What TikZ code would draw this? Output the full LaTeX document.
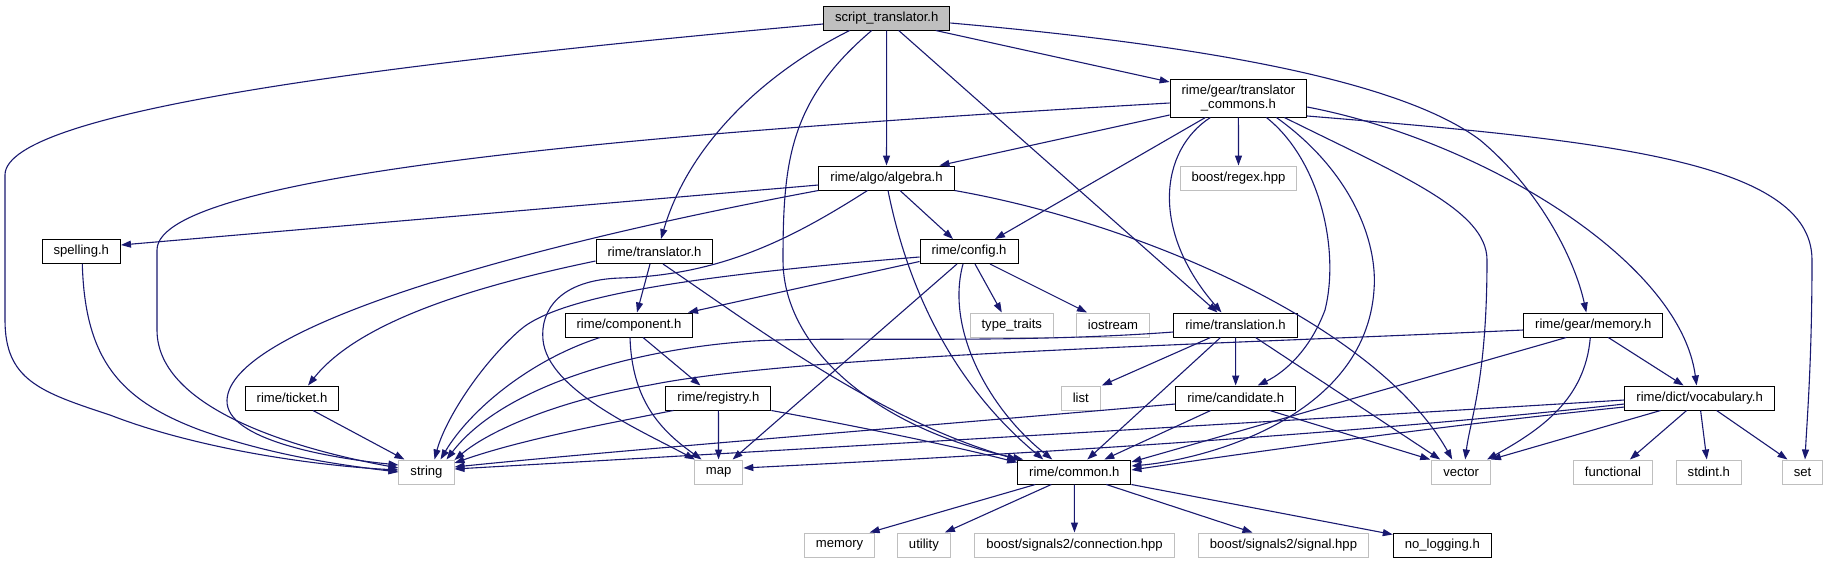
\documentclass[tikz,border=0pt]{standalone}
\usepackage{fontspec}
\setmainfont{Liberation Sans}
\usetikzlibrary{arrows.meta, positioning}
\definecolor{edgeblue}{HTML}{191970}
\definecolor{sysgray}{HTML}{BFBFBF}

\begin{document}
\begin{tikzpicture}[
    x=1pt, y=-1pt,
    file/.style={rectangle, draw=black, fill=white, line width=1pt, minimum height=24pt, inner xsep=11.5pt, inner ysep=0pt, font=\fontsize{13.1}{13.3}\selectfont},
    sysfile/.style={file, draw=sysgray},
    rootfile/.style={file, fill=sysgray},
    arrow/.style={-{Triangle[length=10pt, width=7pt]}, draw=edgeblue, line width=1.1pt}
]
    \useasboundingbox (0,0) rectangle (1828,563);

    \node[rootfile] (root) at (886.7,18) {script\_translator.h};
    \node[file, align=center, minimum height=38pt] (commons) at (1238.4,98) {rime/gear/translator\\\_commons.h};
    \node[file] (algebra) at (886.5,178) {rime/algo/algebra.h};
    \node[sysfile] (regex) at (1238.5,178) {boost/regex.hpp};
    \node[file] (spelling) at (81.3,251.5) {spelling.h};
    \node[file] (translator) at (654.5,251.5) {rime/translator.h};
    \node[file] (config) at (969,251.5) {rime/config.h};
    \node[file] (component) at (629,325) {rime/component.h};
    \node[sysfile] (typetraits) at (1011.8,325) {type\_traits};
    \node[sysfile] (iostream) at (1113,325) {iostream};
    \node[file] (translation) at (1235.5,325) {rime/translation.h};
    \node[file] (gearmemory) at (1593.3,325) {rime/gear/memory.h};
    \node[file] (ticket) at (292,398) {rime/ticket.h};
    \node[file] (registry) at (718.4,398) {rime/registry.h};
    \node[sysfile] (list) at (1080.8,398) {list};
    \node[file] (candidate) at (1235.7,398) {rime/candidate.h};
    \node[file] (vocabulary) at (1699.6,398) {rime/dict/vocabulary.h};
    \node[sysfile] (strng) at (426.5,472) {string};
    \node[sysfile] (map) at (718.6,472) {map};
    \node[file] (common) at (1074.3,472) {rime/common.h};
    \node[sysfile] (vector) at (1461.2,472) {vector};
    \node[sysfile] (functional) at (1612.9,472) {functional};
    \node[sysfile] (stdint) at (1708.8,472) {stdint.h};
    \node[sysfile] (set) at (1802.5,472) {set};
    \node[sysfile] (stdmemory) at (839.6,545) {memory};
    \node[sysfile] (utility) at (923.9,545) {utility};
    \node[sysfile] (connection) at (1074.5,545) {boost/signals2/connection.hpp};
    \node[sysfile] (signal) at (1283.5,545) {boost/signals2/signal.hpp};
    \node[file] (nologging) at (1442.3,545) {no\_logging.h};

    \draw[arrow] ([yshift=-6pt]root.west) .. controls (400,62) and (5,110) .. (5,175) -- (5,320) .. controls (5,380) and (40,392) .. (110,415) .. controls (200,450) and (320,466) .. ([yshift=2pt]strng.west);
    \draw[arrow] ([xshift=-37pt]root.south) .. controls (770,70) and (690,140) .. ([xshift=6.5pt]translator.north);
    \draw[arrow] ([xshift=-15pt]root.south) .. controls (790,100) and (783,160) .. (783,260) .. controls (783,350) and (880,430) .. ([xshift=6pt]common.north west);
    \draw[arrow] (root) -- (algebra);
    \draw[arrow] ([xshift=12pt]root.south) -- ([xshift=-18pt]translation.north);
    \draw[arrow] ([xshift=49pt]root.south) -- ([yshift=16pt]commons.west);
    \draw[arrow] ([yshift=-5pt]root.east) .. controls (1200,45) and (1400,80) .. (1480,140) .. controls (1540,190) and (1575,260) .. ([xshift=-7pt]gearmemory.north);

    \draw[arrow] ([yshift=-5pt]commons.west) .. controls (700,130) and (157,170) .. (157,250) -- (157,330) .. controls (157,410) and (300,450) .. ([yshift=4pt]strng.west);
    \draw[arrow] ([yshift=-17pt]commons.west) -- ([xshift=53pt]algebra.north);
    \draw[arrow] ([xshift=-33pt]commons.south) -- ([xshift=26pt]config.north);
    \draw[arrow] (commons) -- (regex);
    \draw[arrow] ([xshift=-28pt]commons.south) .. controls (1160,150) and (1150,230) .. ([xshift=-14pt]translation.north);
    \draw[arrow] ([xshift=28pt]commons.south) .. controls (1320,160) and (1340,250) .. (1325,310) .. controls (1310,350) and (1285,372) .. ([xshift=22pt]candidate.north);
    \draw[arrow] ([xshift=38pt]commons.south) .. controls (1350,170) and (1378,240) .. (1374,290) .. controls (1365,420) and (1200,460) .. ([yshift=6pt]common.east);
    \draw[arrow] ([xshift=46pt]commons.south) .. controls (1400,175) and (1487,210) .. (1487,260) .. controls (1487,380) and (1470,420) .. ([xshift=4pt]vector.north);
    \draw[arrow] ([yshift=-9pt]commons.east) .. controls (1480,140) and (1680,260) .. ([xshift=-3pt]vocabulary.north);
    \draw[arrow] ([yshift=-18pt]commons.east) .. controls (1600,140) and (1812,160) .. (1812,260) .. controls (1812,360) and (1807,420) .. ([xshift=2.5pt]set.north);

    \draw[arrow] ([yshift=-7pt]algebra.west) -- ([yshift=6.5pt]spelling.east);
    \draw[arrow] (algebra.south west) .. controls (500,250) and (230,330) .. (227,400) .. controls (225,440) and (330,458) .. ([yshift=7pt]strng.west);
    \draw[arrow] ([xshift=-19pt]algebra.south) .. controls (790,240) and (720,275) .. (620,278) .. controls (560,280) and (540,310) .. (543,340) .. controls (548,390) and (640,430) .. ([xshift=1pt]map.north west);
    \draw[arrow] ([xshift=13.5pt]algebra.south) -- ([xshift=-16pt]config.north);
    \draw[arrow] ([xshift=1.5pt]algebra.south) .. controls (910,300) and (960,390) .. ([xshift=-31pt]common.north);
    \draw[arrow] (algebra.south east) .. controls (1150,225) and (1380,330) .. ([xshift=-9pt]vector.north);

    \draw[arrow] ([yshift=-9.5pt]translator.west) .. controls (480,285) and (360,320) .. ([xshift=16pt]ticket.north);
    \draw[arrow] ([xshift=-4.5pt]translator.south) -- ([xshift=8pt]component.north);
    \draw[arrow] ([xshift=8.5pt]translator.south) .. controls (760,330) and (880,420) .. (common.north west);

    \draw[arrow] ([yshift=-5.5pt]config.west) .. controls (700,275) and (560,295) .. (520,330) .. controls (480,365) and (445,420) .. ([xshift=8pt]strng.north);
    \draw[arrow] ([yshift=-10pt]config.west) -- ([xshift=59pt]component.north);
    \draw[arrow] ([xshift=-12pt]config.south) -- ([xshift=14pt]map.north);
    \draw[arrow] ([xshift=-6pt]config.south) .. controls (945,330) and (990,410) .. ([xshift=-22pt]common.north);
    \draw[arrow] ([xshift=6pt]config.south) -- ([xshift=-10pt]typetraits.north);
    \draw[arrow] ([xshift=21pt]config.south) -- ([xshift=-26pt]iostream.north);

    \draw[arrow] ([xshift=-29pt]component.south) .. controls (530,360) and (470,410) .. ([xshift=14pt]strng.north);
    \draw[arrow] ([xshift=1pt]component.south) .. controls (632,400) and (660,430) .. ([xshift=-17pt]map.north);
    \draw[arrow] ([xshift=14pt]component.south) -- ([xshift=-18pt]registry.north);

    \draw[arrow] ([xshift=-45pt]registry.south) .. controls (600,425) and (520,440) .. ([yshift=9pt]strng.east);
    \draw[arrow] (registry) -- (map);
    \draw[arrow] (registry.south east) .. controls (850,425) and (950,445) .. ([yshift=-3pt]common.north west);

    \draw[arrow] ([xshift=21pt]ticket.south) -- ([xshift=-22pt]strng.north);
    \draw[arrow] ([xshift=1pt]spelling.south) .. controls (85,360) and (120,400) .. (200,430) .. controls (270,455) and (340,465) .. (strng.west);

    \draw[arrow] ([yshift=-7pt]translation.west) .. controls (1000,345) and (820,335) .. (740,342) .. controls (620,352) and (500,390) .. ([xshift=20pt]strng.north);
    \draw[arrow] ([xshift=-25pt]translation.south) -- ([xshift=21pt]list.north);
    \draw[arrow] ([xshift=-15pt]translation.south) -- ([xshift=13pt]common.north);
    \draw[arrow] (translation) -- (candidate);
    \draw[arrow] ([xshift=20pt]translation.south) -- ([xshift=-21pt]vector.north);

    \draw[arrow] ([yshift=-6pt]candidate.west) .. controls (900,428) and (600,452) .. ([yshift=5pt]strng.east);
    \draw[arrow] ([xshift=-25pt]candidate.south) -- ([xshift=30pt]common.north);
    \draw[arrow] ([xshift=34pt]candidate.south) -- ([xshift=-31pt]vector.north);

    \draw[arrow] ([xshift=-39pt]common.south) -- ([xshift=30pt]stdmemory.north);
    \draw[arrow] ([xshift=-23pt]common.south) -- ([xshift=21pt]utility.north);
    \draw[arrow] (common) -- (connection);
    \draw[arrow] ([xshift=32pt]common.south) -- ([xshift=-31pt]signal.north);
    \draw[arrow] (common.south east) -- ([yshift=-2pt]nologging.north west);

    \draw[arrow] ([yshift=-5pt]gearmemory.west) .. controls (1200,345) and (800,355) .. (650,385) .. controls (560,400) and (490,430) .. ([yshift=12pt]strng.east);
    \draw[arrow] ([xshift=-27pt]gearmemory.south) -- ([yshift=10pt]common.east);
    \draw[arrow] ([xshift=-3pt]gearmemory.south) .. controls (1585,400) and (1540,430) .. ([xshift=-4pt]vector.north east);
    \draw[arrow] ([xshift=15pt]gearmemory.south) -- ([xshift=-16pt]vocabulary.north);

    \draw[arrow] ([yshift=-2pt]vocabulary.west) .. controls (1250,423) and (700,455) .. ([yshift=3pt]strng.east);
    \draw[arrow] ([yshift=-6pt]vocabulary.west) .. controls (1300,440) and (900,460) .. ([yshift=4pt]map.east);
    \draw[arrow] ([yshift=-9pt]vocabulary.west) .. controls (1400,430) and (1200,460) .. ([yshift=2pt]common.east);
    \draw[arrow] ([xshift=-39pt]vocabulary.south) -- (vector.north east);
    \draw[arrow] ([xshift=-13pt]vocabulary.south) -- ([xshift=17pt]functional.north);
    \draw[arrow] ([xshift=1pt]vocabulary.south) -- ([xshift=-2pt]stdint.north);
    \draw[arrow] ([xshift=17pt]vocabulary.south) -- ([xshift=-15pt]set.north);
\end{tikzpicture}
\end{document}
